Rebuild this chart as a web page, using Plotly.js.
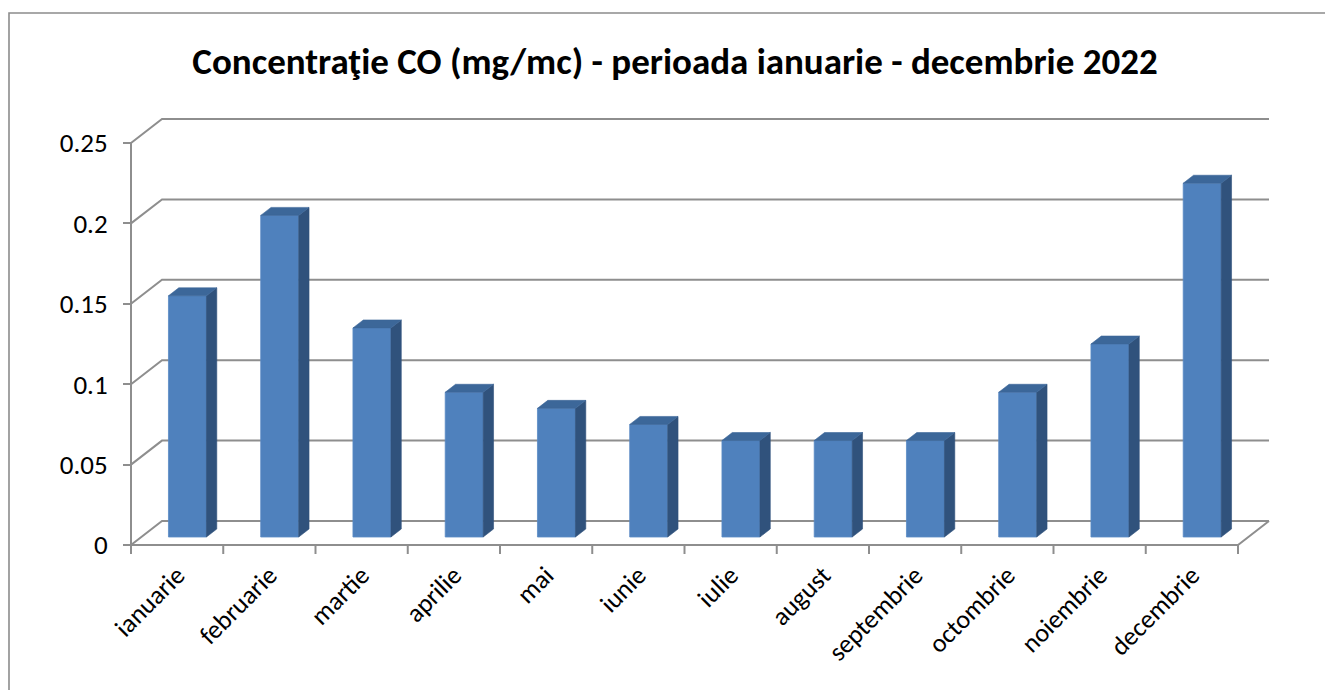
<!DOCTYPE html>
<html>
<head>
<meta charset="utf-8">
<script src="https://cdn.plot.ly/plotly-3.0.1.min.js"></script>
<style>html,body{margin:0;padding:0;background:#fff;}#chart{width:1325px;height:690px;}</style>
</head>
<body>
<div id="chart"></div>
<script>
const months = ['ianuarie','februarie','martie','aprilie','mai','iunie','iulie','august','septembrie','octombrie','noiembrie','decembrie'];
const values = [0.15,0.2,0.13,0.09,0.08,0.07,0.06,0.06,0.06,0.09,0.12,0.22];
const yTicks = [0,0.05,0.1,0.15,0.2,0.25];
const yTickText = ['0','0.05','0.1','0.15','0.2','0.25'];
const titleText = 'Concentraţie CO (mg/mc) - perioada ianuarie - decembrie 2022';

// layout geometry (pixels)
const W = 1325, H = 690;
const x0px = 131, catPx = 92.25, y0px = 545, unitPx = 1608;
const xRange = [-x0px / catPx, (W - x0px) / catPx];
const yRange = [-(H - y0px) / unitPx, y0px / unitPx];
const Dx = 31 / catPx, Dy = 24 / unitPx;   // depth of floor
const halfW = 19 / catPx;
const n = months.length;
const base = Dy / 3;

const FONT = 'Carlito, Lato, sans-serif';
const GRID = '#8e8e8e';

// bars front faces
const xs = months.map((m, i) => i + 0.5 + Dx / 3);
const frontTrace = {
  type: 'bar', x: xs, y: values, base: values.map(() => base),
  width: values.map(() => 2 * halfW),
  marker: {color: '#4F81BD', line: {width: 0.8, color: '#5a8ac4'}},
  hoverinfo: 'skip', showlegend: false
};
const sideX = [], sideY = [], topX = [], topY = [];
values.forEach((v, i) => {
  const xl = xs[i] - halfW, xr = xs[i] + halfW;
  sideX.push(xr, xr + Dx / 3, xr + Dx / 3, xr, xr, null);
  sideY.push(base, base + Dy / 3, base + v + Dy / 3, base + v, base, null);
  topX.push(xl, xr, xr + Dx / 3, xl + Dx / 3, xl, null);
  topY.push(base + v, base + v, base + v + Dy / 3, base + v + Dy / 3, base + v, null);
});
const sideTrace = {type: 'scatter', mode: 'lines', x: sideX, y: sideY, fill: 'toself',
  fillcolor: '#30527C', line: {width: 0.6, color: '#30527C'}, hoverinfo: 'skip', showlegend: false};
const topTrace = {type: 'scatter', mode: 'lines', x: topX, y: topY, fill: 'toself',
  fillcolor: '#3C6799', line: {width: 0.6, color: '#3C6799'}, hoverinfo: 'skip', showlegend: false};

// walls, gridlines, axes
const shapes = [];
yTicks.forEach(v => {
  shapes.push({type: 'path', xref: 'x', yref: 'y', layer: 'below',
    path: `M 0,${v} L ${Dx},${v + Dy} L ${n + Dx},${v + Dy}`,
    line: {color: GRID, width: 2}});
});
shapes.push({type: 'path', xref: 'x', yref: 'y', layer: 'below',
  path: `M 0,0 L ${n},0 L ${n + Dx},${Dy}`, line: {color: GRID, width: 2}});
shapes.push({type: 'path', xref: 'x', yref: 'y', layer: 'below',
  path: `M 0,0 L 0,${yTicks[yTicks.length - 1]}`, line: {color: GRID, width: 2}});
for (let k = 0; k <= n; k++) {
  shapes.push({type: 'line', xref: 'x', yref: 'y', layer: 'below',
    x0: k, x1: k, y0: 0, y1: -9 / unitPx, line: {color: GRID, width: 2}});
}
// chart border
shapes.push({type: 'rect', xref: 'paper', yref: 'paper', x0: 9 / W, x1: 1.02, y0: -0.02, y1: 1 - 13 / H,
  line: {color: '#8c8c8c', width: 1.6}, layer: 'below'});

const layout = {
  width: W, height: H,
  margin: {l: 0, r: 0, t: 0, b: 0},
  paper_bgcolor: '#fff', plot_bgcolor: 'rgba(0,0,0,0)',
  showlegend: false,
  title: {text: '<b>' + titleText + '</b>', font: {family: FONT, size: 37, color: '#000'},
    x: 675 / W, xanchor: 'center', xref: 'paper', y: 1 - 61 / H, yref: 'container', yanchor: 'middle'},
  xaxis: {range: xRange, tickvals: months.map((m, i) => i + 0.5), ticktext: months,
    tickangle: -45, ticks: '', showgrid: false, zeroline: false, showline: false,
    anchor: 'free', position: (H - y0px) / H, automargin: false, ticklabelstandoff: 9,
    tickfont: {family: FONT, size: 26, color: '#000'}, fixedrange: true},
  yaxis: {range: yRange, tickvals: yTicks, ticktext: yTickText,
    ticks: 'outside', ticklen: 8, tickwidth: 2, tickcolor: GRID,
    showgrid: false, zeroline: false, showline: false,
    anchor: 'free', position: x0px / W, automargin: false, ticklabelstandoff: 10,
    tickfont: {family: FONT, size: 27, color: '#000'}, fixedrange: true},
  shapes: shapes,
  bargap: 0
};
Plotly.newPlot('chart', [frontTrace, sideTrace, topTrace], layout, {displayModeBar: false, staticPlot: true});
</script>
</body>
</html>
